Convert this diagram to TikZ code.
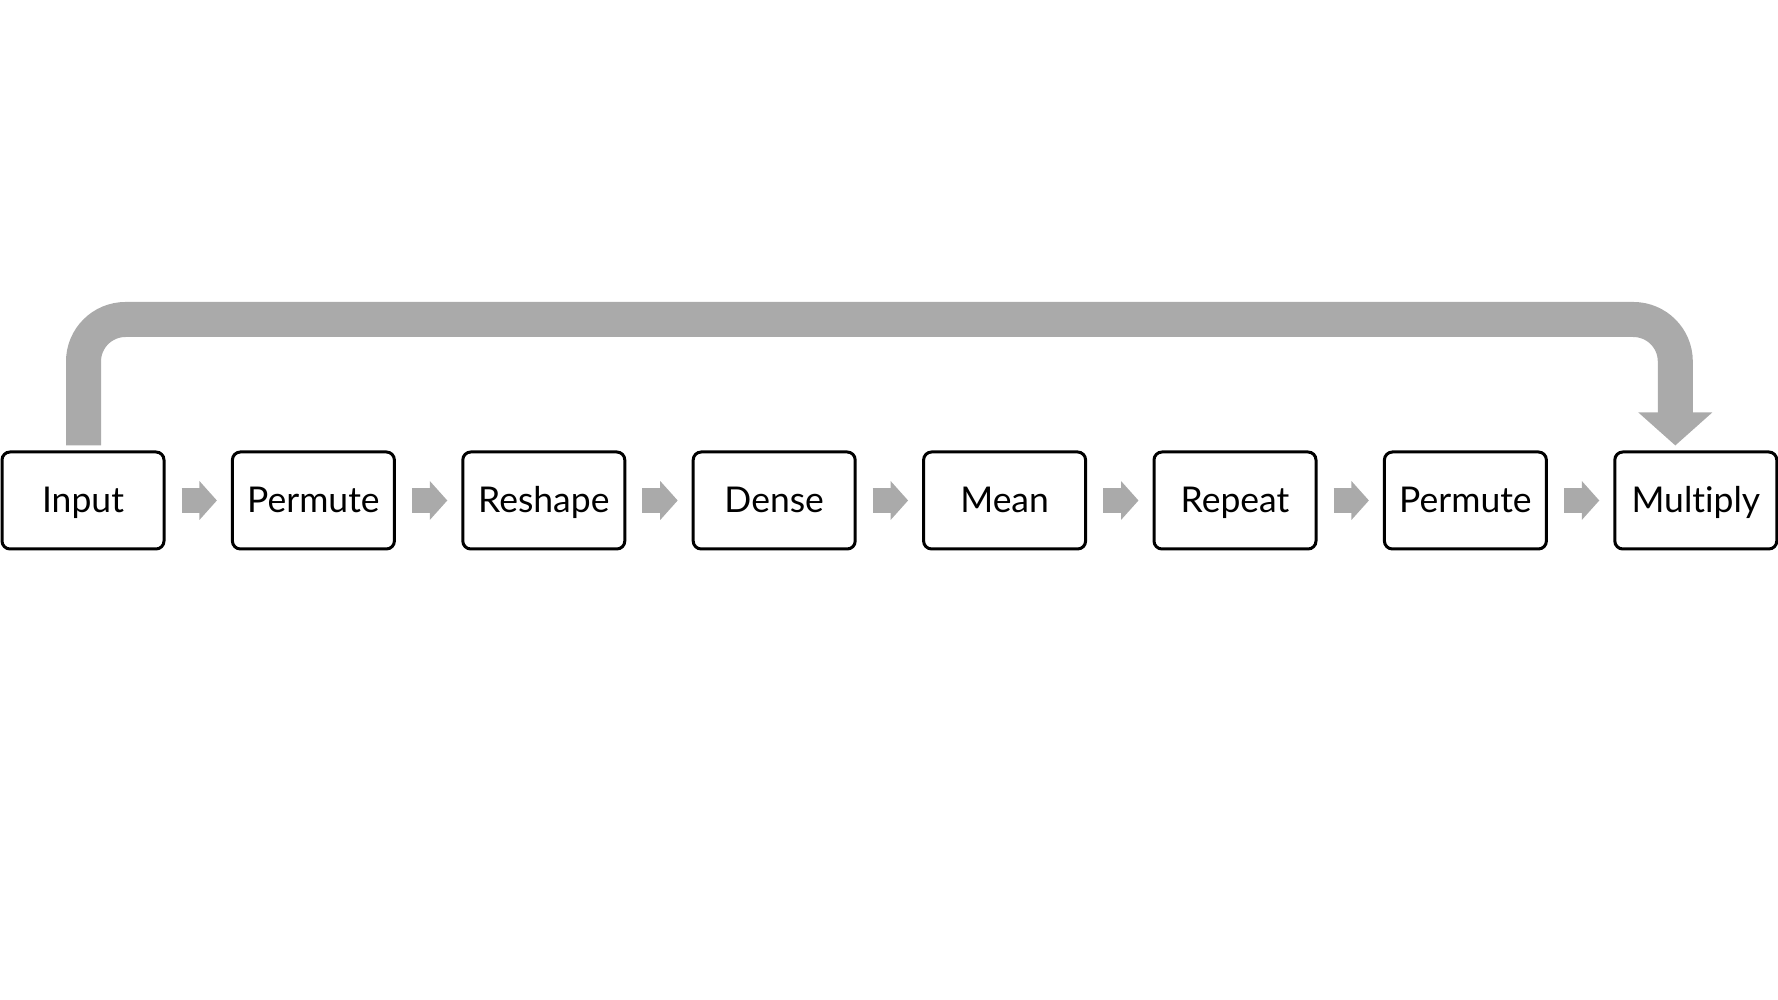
\documentclass[tikz,border=0pt]{standalone}
\usepackage{fontspec}
\setmainfont{Lato}[Ligatures=NoCommon]
\usetikzlibrary{arrows.meta}
\definecolor{arrowgray}{RGB}{170,170,170}
\tikzset{
  blockbox/.style={draw=black, line width=3pt, rounded corners=8pt, fill=white,
    minimum width=162pt, minimum height=97pt, inner sep=0pt,
    text height=31pt, text depth=7pt,
    font=\fontsize{35.5}{42}\selectfont},
  smallarrow/.style={draw=arrowgray, line width=25pt,
    -{Triangle[width=38pt,length=17.5pt,fill=arrowgray]}},
  bigarrow/.style={draw=arrowgray, line width=35pt, rounded corners=42pt,
    -{Triangle[width=72pt,length=33pt,fill=arrowgray]}},
}
\begin{document}
\begin{tikzpicture}[x=1pt,y=1pt]
\useasboundingbox (0,0) rectangle (1778,1000);
\node[blockbox] (n0) at (83,499.5) {Input};
\node[blockbox] (n1) at (313.4,499.5) {Permute};
\node[blockbox] (n2) at (543.8,499.5) {Reshape};
\node[blockbox] (n3) at (774.2,499.5) {Dense};
\node[blockbox] (n4) at (1004.6,499.5) {Mean};
\node[blockbox] (n5) at (1235,499.5) {Repeat};
\node[blockbox] (n6) at (1465.4,499.5) {Permute};
\node[blockbox] (n7) at (1695.8,499.5) {Multiply};
\foreach \a/\b in {n0/n1,n1/n2,n2/n3,n3/n4,n4/n5,n5/n6,n6/n7}
  \draw[smallarrow] ([xshift=16pt]\a.east) -- ([xshift=-14pt]\b.west);
\coordinate (s) at ([shift={(0.5pt,5pt)}]n0.north);
\coordinate (e) at ([shift={(-20.5pt,5pt)}]n7.north);
\draw[bigarrow] (s) -- (s |- 0,680.5) -- (e |- 0,680.5) -- (e);
\end{tikzpicture}
\end{document}
